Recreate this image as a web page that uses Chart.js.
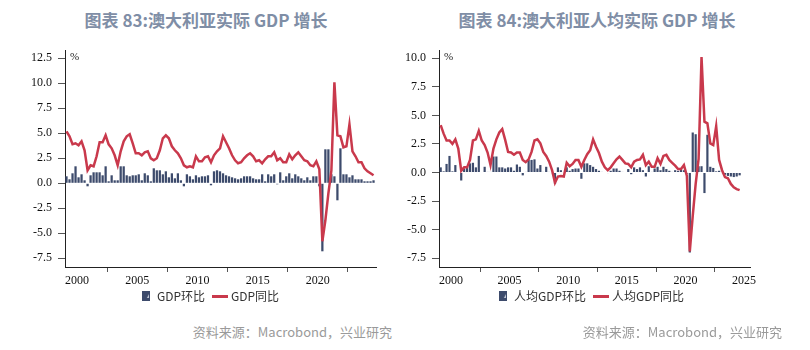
<!DOCTYPE html>
<html>
<head>
<meta charset="utf-8">
<script src="https://cdn.jsdelivr.net/npm/chart.js@4.4.1/dist/chart.umd.min.js"></script>
<style>
  body { margin: 0; width: 810px; height: 350px; background: #fff; position: relative; overflow: hidden;
         font-family: "Noto Sans CJK SC", sans-serif; }
  .title { position: absolute; top: 8px; height: 24px; line-height: 24px; font-size: 17px; font-weight: bold;
           color: #7f8ea6; text-align: center; white-space: nowrap; }
  .source { position: absolute; top: 323px; line-height: 18px; font-size: 13px; color: #9a9a9a;
            text-align: right; white-space: nowrap; }
  .box { position: absolute; top: 40px; height: 281px; }
</style>
</head>
<body>
<div class="title" style="left:0;width:412px">图表 83:澳大利亚实际 GDP 增长</div>
<div class="title" style="left:405px;width:384px">图表 84:澳大利亚人均实际 GDP 增长</div>
<div class="box" style="left:0;width:420px"><canvas id="gdpChart"></canvas></div>
<div class="box" style="left:398px;width:386px"><canvas id="pcChart"></canvas></div>
<div class="source" style="left:0;width:392px">资料来源：Macrobond，兴业研究</div>
<div class="source" style="left:405px;width:377px">资料来源：Macrobond，兴业研究</div>

<script>
// quarterly data, 1999Q1 .. 2024Q3
const startYear = 1999;

// 澳大利亚实际GDP 环比 / 同比 (%)
const gdpQoQ = [
  0.7, 0.4, 1.0, 1.7,   0.6, 0.9, 0.3, -0.3,  0.8, 1.1, 1.1, 1.1,   0.8, 1.7, 0.2, 0.8,
  0.3, 0.3, 1.7, 1.7,   0.8, 0.7, 0.8, 0.8,   0.9, 0.3, 1.0, 0.8,   0.2, 1.5, 1.3, 1.3,
  0.9, 1.2, 0.6, 1.0,   0.5, 1.0, 0.3, -0.3,  0.9, 0.7, 0.4, 0.8,   0.6, 0.7, 0.7, 0.8,
  -0.2, 1.2, 1.3, 1.2,  1.0, 0.8, 0.7, 0.6,   0.5, 0.4, 0.5, 0.7,   0.7, 0.7, 0.5, 0.4,
  0.4, 0.9, 0.2, 0.9,   0.7, 0.9, -0.1, 1.1,  0.3, 0.7, 1.0, 0.5,   0.9, 0.7, 0.5, 0.3,
  0.6, 0.3, 0.7, 0.7,   -0.3, -6.8, 3.4, 3.4, 0.9, 0.7, -1.7, 3.5,  0.9, 0.9, 0.6, 0.8,
  0.4, 0.4, 0.4, 0.2,   0.2, 0.2, 0.3
];
const gdpYoY = [
  5.2, 4.7, 3.9, 4.0,   3.8, 4.2, 3.3, 1.3,   1.8, 1.7, 2.7, 4.1,   4.1, 4.8, 3.9, 3.5,
  2.8, 1.8, 3.2, 4.2,   4.7, 4.9, 4.0, 3.0,   3.0, 2.8, 3.1, 3.2,   2.5, 2.3, 2.5, 3.3,
  4.5, 4.8, 4.5, 3.7,   3.3, 3.0, 2.5, 1.8,   1.6, 1.7, 1.6, 2.7,   2.2, 2.2, 2.6, 2.7,
  2.1, 2.8, 3.2, 3.5,   4.7, 4.1, 3.5, 2.8,   2.3, 2.0, 2.1, 2.5,   2.8, 3.0, 2.7, 2.2,
  2.3, 2.0, 2.4, 2.7,   2.7, 3.1, 2.3, 2.5,   2.1, 2.1, 2.9, 2.4,   2.8, 3.1, 2.7, 2.3,
  2.2, 1.8, 1.7, 2.2,   1.4, -5.8, -3.7, -1.0, 1.3, 10.1, 4.8, 4.7, 3.6, 3.7, 5.9, 3.2,
  2.7, 2.1, 2.1, 1.5,   1.2, 1.0, 0.8
];

// 澳大利亚人均实际GDP 环比 / 同比 (%)
const pcQoQ = [
  0.45, 0.1, 0.75, 1.45,  0.1, 0.65, 0.0, -0.7,   0.35, 0.5, 0.8, 0.85,   0.45, 1.45, 0.0, 0.5,
  0.05, 0.05, 1.4, 1.4,   0.45, 0.45, 0.35, 0.45, 0.45, 0.15, 0.7, 0.5,   -0.25, 0.05, 1.1, 1.1,
  1.15, 0.35, 0.65, 0.05, 0.5, 0.05, -0.05, -1.0, 0.45, 0.2, 0.0, 0.45,   0.15, 0.3, 0.35, 0.35,
  -0.55, 0.8, 0.8, 0.65,  0.5, 0.3, 0.15, 0.05,   0.0, -0.05, 0.15, 0.35, 0.35, 0.15, 0.05, 0.0,
  0.3, -0.15, 0.45, 0.3,  0.45, 0.2, -0.35, 0.55, 0.05, 0.35, 0.5, 0.2,   0.5, 0.3, 0.15, 0.05,
  0.2, 0.15, 0.3, 0.2,    -0.1, -7.0, 3.5, 3.35,  0.55, 0.55, -1.8, 3.3,  0.5, 0.4, 0.1, 0.15,
  -0.05, -0.2, -0.3, -0.35, -0.4, -0.35, -0.25
];
const pcYoY = [
  4.15, 3.4, 2.8, 2.8,    2.5, 2.9, 2.1, 0.15,    0.45, 0.45, 1.1, 2.8,   2.9, 3.65, 2.8, 2.4,
  1.75, 0.65, 2.1, 2.9,   3.5, 3.8, 2.85, 1.8,    1.75, 1.55, 1.75, 1.75, 1.1, 0.9, 1.15, 1.8,
  2.8, 2.9, 2.55, 1.8,    1.45, 0.95, 0.2, -0.9,  -0.35, -0.3, -0.35, 0.85, 0.55, 0.75, 1.1, 1.1,
  0.5, 1.1, 1.6, 1.95,    2.9, 2.25, 1.7, 0.95,   0.45, 0.2, 0.45, 0.8,   1.15, 1.4, 1.1, 0.8,
  0.75, 0.45, 0.95, 1.1,  1.15, 1.55, 0.65, 0.95, 0.5, 0.5, 1.25, 0.75,   1.45, 1.55, 1.1, 0.85,
  0.6, 0.3, 0.3, 0.65,    -0.3, -6.9, -3.8, -1.0, 1.2, 10.1, 4.45, 4.3,   2.55, 2.4, 4.05, 1.1,
  0.2, -0.4, -0.5, -1.0,  -1.3, -1.45, -1.55
];

const barColor = '#3d4b6c';
const lineColor = '#c9394c';

// quarter mid-points on a decimal-year axis
const quarters = gdpQoQ.map((v, i) => startYear + Math.floor(i / 4) + ((i % 4) + 0.5) / 4);
const toPoints = values => values.map((v, i) => ({ x: quarters[i], y: v }));

function barIcon() {
  const c = document.createElement('canvas');
  c.width = 8; c.height = 10;
  const g = c.getContext('2d');
  g.fillStyle = barColor;
  g.fillRect(0, 0, 8, 10);
  g.fillStyle = '#c9cfdb';
  g.beginPath(); g.moveTo(5, 7); g.lineTo(7, 3); g.lineTo(7, 7); g.closePath(); g.fill();
  return c;
}
function lineIcon() {
  const c = document.createElement('canvas');
  c.width = 16; c.height = 3;
  const g = c.getContext('2d');
  g.fillStyle = lineColor;
  g.fillRect(0, 0, 16, 3);
  return c;
}
const icons = [barIcon(), lineIcon()];

const percentLabel = {
  id: 'percentLabel',
  afterDraw(chart) {
    const ctx = chart.ctx;
    ctx.save();
    ctx.font = '11px "Liberation Serif"';
    ctx.fillStyle = '#222';
    ctx.textBaseline = 'middle';
    ctx.fillText('%', chart.chartArea.left + 5, chart.chartArea.top + 7);
    ctx.restore();
  }
};

// the legend sits a little closer to the axis labels than Chart.js places it
const liftLegend = {
  id: 'liftLegend',
  afterLayout(chart) {
    chart.legend.top -= 9;
    chart.legend.bottom -= 9;
  }
};

// drop the extra room Chart.js reserves for edge labels
const noEdgePadding = s => { s.paddingTop = 0; s.paddingBottom = 0; s.paddingLeft = 0; s.paddingRight = 0; };

function makeChart(id, labels, qoq, yoy, opts) {
  const ctx = document.getElementById(id).getContext('2d');
  return new Chart(ctx, {
    type: 'bar',
    data: {
      datasets: [{
        label: labels[0],
        data: toPoints(qoq),
        backgroundColor: barColor,
        borderWidth: 0,
        barPercentage: 0.75,
        categoryPercentage: 1,
        order: 2
      }, {
        type: 'line',
        label: labels[1],
        data: toPoints(yoy),
        borderColor: lineColor,
        backgroundColor: lineColor,
        borderWidth: 2.5,
        pointRadius: 0,
        tension: 0,
        order: 1
      }]
    },
    options: {
      responsive: true,
      maintainAspectRatio: false,
      animation: false,
      layout: { padding: { top: 10, right: 0, left: 0, bottom: 0 } },
      plugins: {
        tooltip: { enabled: false },
        legend: {
          position: 'bottom',
          labels: {
            sort: (a, b) => a.datasetIndex - b.datasetIndex,
            usePointStyle: true,
            pointStyleWidth: 10,
            padding: 10,
            color: '#333',
            font: { family: '"Noto Sans CJK SC"', size: 12 },
            generateLabels: chart => Chart.defaults.plugins.legend.labels.generateLabels(chart)
              .map(item => Object.assign(item, { pointStyle: icons[item.datasetIndex] }))
          }
        }
      },
      scales: {
        x: {
          type: 'linear',
          offset: false,
          min: opts.xMin,
          max: opts.xMax,
          afterFit: s => { s.height = 22; noEdgePadding(s); },
          border: { display: true, color: '#222', width: 1 },
          grid: { drawOnChartArea: false, drawTicks: true, tickLength: 5, color: '#555' },
          ticks: {
            stepSize: 5,
            includeBounds: false,
            maxRotation: 0,
            padding: 2,
            color: '#111',
            font: { family: '"Liberation Serif"', size: 12 },
            callback: v => String(v)
          }
        },
        y: {
          min: opts.yMin,
          max: opts.yMax,
          afterFit: s => { s.width = opts.yWidth; noEdgePadding(s); },
          border: { display: true, color: '#222', width: 1 },
          grid: { drawOnChartArea: false, drawTicks: true, tickLength: 7, color: '#555' },
          ticks: {
            stepSize: 2.5,
            includeBounds: false,
            padding: 6,
            color: '#111',
            font: { family: '"Liberation Serif"', size: 12 },
            callback: v => v.toFixed(1)
          }
        },
        // empty right-hand band: keeps the plot narrow while the legend centres on the full canvas
        spacer: {
          position: 'right',
          afterFit: s => { s.width = opts.rightGap; noEdgePadding(s); },
          border: { display: false },
          grid: { display: false },
          ticks: { display: false }
        }
      }
    },
    plugins: [percentLabel, liftLegend]
  });
}

makeChart('gdpChart', ['GDP环比', 'GDP同比'], gdpQoQ, gdpYoY,
  { xMin: 1999.0, xMax: 2024.83, yMin: -8.37, yMax: 13.33, yWidth: 65, rightGap: 44 });
makeChart('pcChart', ['人均GDP环比', '人均GDP同比'], pcQoQ, pcYoY,
  { xMin: 1998.98, xMax: 2025.51, yMin: -8.27, yMax: 10.72, yWidth: 41, rightGap: 34 });
</script>
</body>
</html>
